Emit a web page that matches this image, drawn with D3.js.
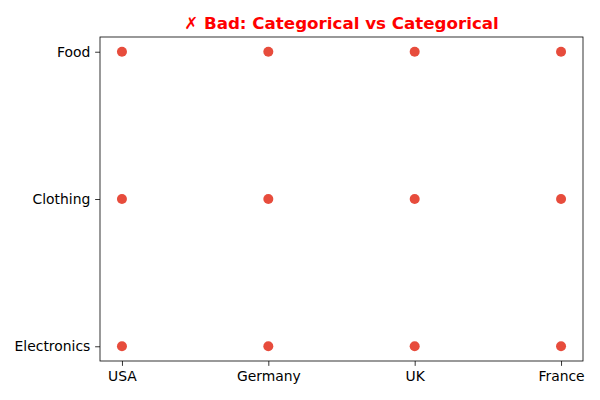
<!DOCTYPE html>
<html><head><meta charset="utf-8">
<script src="https://cdn.jsdelivr.net/npm/d3@7"></script>
<style>body{margin:0;background:#fff}svg{display:block}</style>
</head><body>
<svg id="c" width="600" height="400"></svg>
<script>
const countries = ["USA", "Germany", "UK", "France"];
const categories = ["Electronics", "Clothing", "Food"];
const pointCountries = ["USA","USA","USA","Germany","Germany","Germany","UK","UK","UK","France","France","France"];
const pointCategories = ["Electronics","Clothing","Food","Electronics","Clothing","Food","Electronics","Clothing","Food","Electronics","Clothing","Food"];
const titleText = "✗ Bad: Categorical vs Categorical";

const svg = d3.select("#c");
const L = 100, R = 583, T = 37, B = 361;
const x = d3.scaleLinear().domain([-0.15, countries.length - 1 + 0.15]).range([L, R]);
const y = d3.scaleLinear().domain([-0.1, categories.length - 1 + 0.1]).range([B, T]);
const font = "DejaVu Sans, sans-serif";

svg.append("g").selectAll("circle")
  .data(pointCountries.map((c, i) => ({c, k: pointCategories[i]})))
  .join("circle")
  .attr("cx", d => x(countries.indexOf(d.c)))
  .attr("cy", d => y(categories.indexOf(d.k)))
  .attr("r", 5)
  .attr("fill", "#e74c3c");

const xAxis = svg.append("g").attr("transform", `translate(0,${B})`)
  .call(d3.axisBottom(x).tickValues(d3.range(countries.length)).tickFormat(i => countries[i]).tickSize(4.86).tickPadding(4.86));
const yAxis = svg.append("g").attr("transform", `translate(${L},0)`)
  .call(d3.axisLeft(y).tickValues(d3.range(categories.length)).tickFormat(i => categories[i]).tickSize(4.86).tickPadding(4.86));
[xAxis, yAxis].forEach(a => {
  a.select(".domain").remove();
  a.selectAll("text").attr("font-family", font).attr("font-size", 13.9).attr("fill", "#000");
  a.selectAll("line").attr("stroke", "#000").attr("stroke-width", 0.8);
});
svg.append("rect").attr("x", L).attr("y", T).attr("width", R - L).attr("height", B - T)
  .attr("fill", "none").attr("stroke", "#000").attr("stroke-width", 0.8);

svg.append("text").attr("x", (L + R) / 2).attr("y", 29).attr("text-anchor", "middle")
  .attr("font-family", font).attr("font-weight", "bold").attr("font-size", 16.7).attr("fill", "red")
  .text(titleText);
</script>
</body></html>
